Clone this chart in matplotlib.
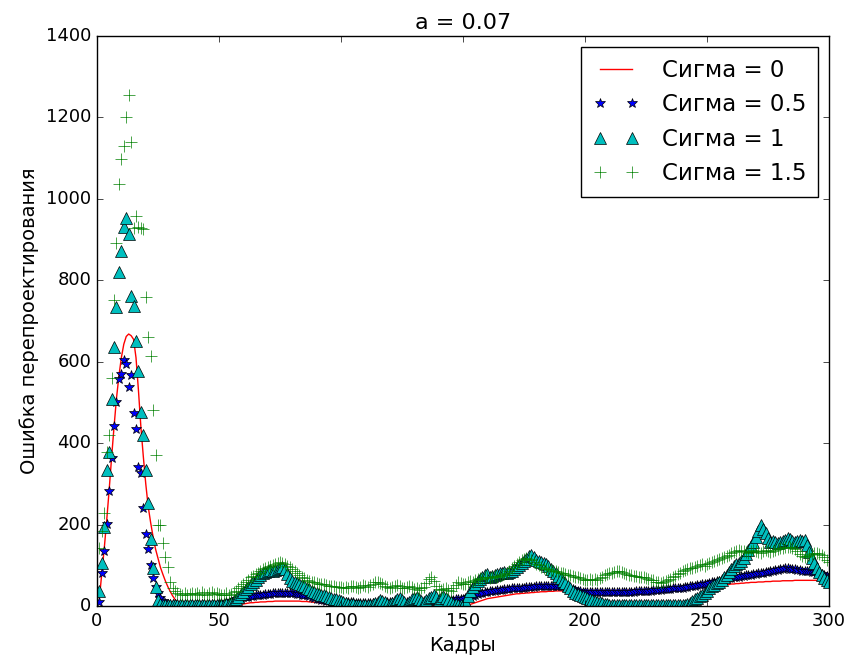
import numpy as np
import matplotlib
matplotlib.use('Agg')
import matplotlib.pyplot as plt

# кадры 1..300
kadry = np.arange(1, 301)

# Сигма = 0 (линия)
sigma_0 = [
    20, 80, 142, 211, 285, 365, 440, 510, 565, 610,
    643, 662, 668, 664, 655, 610, 530, 440, 367, 300,
    244, 205, 170, 140, 118, 95, 78, 62, 48, 36,
    25, 16, 9, 5, 2, 1, 0, 0, 0, 0,
    0, 0, 0, 0, 0, 0, 0, 0, 0, 0,
    0, 0, 0, 0, 1, 1, 2, 3, 4, 5,
    6, 7, 8, 8, 9, 9, 10, 10, 10, 11,
    11, 11, 12, 12, 12, 12, 12, 12, 12, 12,
    12, 12, 12, 11, 11, 11, 10, 10, 9, 9,
    8, 7, 6, 5, 4, 3, 2, 2, 1, 1,
    0, 0, 0, 0, 0, 0, 0, 0, 0, 0,
    0, 0, 0, 0, 0, 0, 0, 0, 0, 0,
    0, 0, 0, 0, 0, 0, 0, 0, 0, 0,
    0, 0, 0, 0, 0, 0, 0, 0, 0, 0,
    0, 0, 0, 0, 0, 0, 0, 0, 0, 0,
    1, 2, 4, 6, 8, 10, 12, 14, 16, 18,
    19, 20, 21, 22, 23, 24, 25, 26, 27, 28,
    29, 30, 30, 31, 31, 32, 32, 33, 33, 34,
    34, 35, 35, 35, 36, 36, 36, 37, 37, 37,
    37, 38, 38, 38, 38, 38, 38, 38, 38, 38,
    38, 38, 38, 38, 38, 38, 38, 38, 38, 38,
    38, 38, 38, 38, 38, 38, 38, 39, 39, 39,
    39, 39, 39, 39, 40, 40, 40, 40, 40, 41,
    41, 41, 41, 41, 42, 42, 42, 42, 43, 43,
    43, 44, 44, 45, 45, 46, 46, 47, 47, 48,
    48, 49, 50, 50, 51, 52, 52, 53, 53, 54,
    54, 55, 55, 56, 56, 57, 57, 58, 58, 58,
    59, 59, 59, 60, 60, 60, 61, 61, 61, 61,
    62, 62, 62, 62, 62, 63, 63, 63, 63, 63,
    63, 63, 63, 63, 63, 63, 63, 62, 62, 62,
]

# Сигма = 0.5 (звёздочки)
sigma_05 = [
    10, 82, 136, 201, 283, 364, 443, 501, 557, 570,
    604, 594, 538, 568, 473, 434, 342, 327, 241, 177,
    140, 101, 68, 47, 31, 19, 13, 8, 6, 5,
    5, 5, 4, 4, 4, 5, 4, 4, 5, 5,
    5, 5, 6, 5, 6, 6, 5, 6, 6, 7,
    7, 8, 9, 10, 12, 14, 16, 18, 20, 21,
    22, 23, 24, 25, 26, 27, 28, 28, 29, 30,
    30, 31, 31, 32, 32, 33, 33, 33, 32, 32,
    31, 30, 29, 28, 27, 26, 24, 22, 20, 18,
    16, 15, 14, 13, 12, 11, 11, 10, 10, 10,
    10, 9, 9, 9, 9, 8, 8, 8, 8, 8,
    8, 8, 8, 8, 8, 8, 8, 9, 9, 9,
    9, 9, 9, 9, 9, 10, 10, 10, 10, 10,
    10, 11, 11, 11, 11, 12, 12, 12, 13, 13,
    13, 14, 14, 14, 15, 15, 16, 16, 17, 18,
    19, 21, 23, 25, 27, 29, 31, 33, 34, 35,
    36, 37, 38, 39, 40, 40, 41, 42, 42, 43,
    43, 44, 44, 45, 45, 46, 46, 47, 47, 48,
    48, 48, 49, 49, 49, 50, 50, 50, 50, 49,
    48, 47, 45, 43, 41, 39, 37, 36, 35, 35,
    34, 34, 34, 34, 34, 34, 34, 34, 34, 34,
    34, 34, 34, 34, 34, 35, 35, 35, 35, 35,
    36, 36, 36, 37, 37, 38, 38, 39, 39, 40,
    40, 41, 41, 42, 42, 43, 43, 44, 44, 45,
    46, 47, 48, 49, 50, 51, 52, 53, 54, 55,
    57, 58, 60, 61, 62, 64, 65, 66, 68, 69,
    70, 71, 72, 73, 74, 75, 76, 77, 78, 79,
    80, 81, 82, 83, 84, 85, 86, 88, 89, 91,
    92, 93, 93, 92, 91, 90, 89, 88, 87, 87,
    86, 85, 84, 83, 82, 80, 78, 76, 74, 71,
]

# Сигма = 1 (треугольники)
sigma_1 = [
    38, 105, 195, 334, 379, 508, 637, 735, 820, 872,
    932, 953, 913, 762, 738, 652, 576, 477, 420, 334,
    252, 165, 93, 47, 15, 5, 3, 3, 2, 2,
    2, 2, 3, 3, 3, 3, 3, 3, 3, 3,
    3, 3, 3, 3, 3, 3, 3, 3, 3, 3,
    3, 3, 4, 5, 8, 12, 17, 23, 29, 35,
    41, 47, 53, 59, 65, 70, 75, 80, 84, 86,
    88, 87, 89, 91, 93, 95, 90, 78, 68, 62,
    58, 56, 55, 52, 48, 45, 41, 38, 35, 32,
    30, 28, 26, 24, 22, 20, 18, 16, 14, 12,
    10, 8, 6, 5, 4, 3, 3, 2, 2, 2,
    2, 3, 5, 8, 11, 14, 12, 9, 6, 4,
    7, 12, 16, 19, 15, 10, 6, 11, 16, 20,
    22, 18, 13, 9, 14, 19, 23, 26, 21, 15,
    19, 24, 20, 14, 9, 6, 4, 3, 2, 3,
    12, 24, 36, 46, 54, 61, 66, 71, 75, 78,
    72, 74, 76, 78, 80, 82, 84, 81, 83, 86,
    90, 95, 100, 105, 110, 116, 122, 125, 120, 114,
    110, 107, 105, 102, 97, 92, 86, 80, 74, 68,
    62, 56, 50, 44, 38, 33, 30, 27, 24, 21,
    19, 17, 15, 13, 11, 9, 7, 5, 4, 3,
    2, 2, 2, 2, 2, 2, 2, 2, 2, 2,
    2, 2, 2, 2, 2, 2, 2, 2, 2, 2,
    2, 2, 2, 2, 2, 2, 2, 2, 2, 2,
    3, 5, 8, 12, 16, 20, 24, 28, 33, 38,
    43, 48, 52, 56, 60, 65, 71, 77, 84, 91,
    97, 102, 106, 110, 118, 128, 138, 148, 158, 170,
    185, 199, 190, 180, 168, 157, 160, 158, 155, 157,
    160, 163, 167, 165, 160, 157, 160, 162, 160, 162,
    150, 133, 118, 105, 94, 84, 76, 69, 63, 59,
]

# Сигма = 1.5 (плюсы)
sigma_15 = [
    142, 185, 228, 378, 420, 559, 752, 891, 1037, 1099,
    1130, 1200, 1254, 1140, 928, 959, 930, 928, 925, 758,
    660, 613, 481, 371, 200, 199, 154, 120, 95, 60,
    44, 38, 33, 30, 28, 32, 27, 30, 33, 29,
    31, 28, 34, 30, 27, 32, 35, 29, 33, 30,
    28, 26, 31, 27, 30, 34, 38, 43, 48, 54,
    60, 65, 70, 74, 78, 82, 86, 90, 93, 96,
    99, 101, 104, 106, 108, 105, 102, 99, 95, 91,
    86, 80, 75, 71, 68, 65, 62, 60, 58, 57,
    55, 54, 53, 51, 50, 49, 48, 47, 47, 46,
    45, 47, 44, 48, 50, 46, 43, 47, 51, 49,
    46, 52, 55, 58, 60, 57, 53, 49, 47, 44,
    46, 49, 52, 48, 45, 43, 47, 50, 46, 42,
    44, 40, 43, 47, 56, 66, 71, 62, 50, 41,
    39, 42, 45, 40, 38, 44, 52, 58, 56, 53,
    55, 58, 62, 60, 64, 67, 69, 66, 70, 72,
    68, 71, 74, 70, 73, 76, 79, 82, 87, 93,
    98, 103, 108, 112, 116, 118, 116, 112, 108, 104,
    100, 96, 94, 92, 90, 88, 87, 86, 84, 82,
    80, 78, 76, 75, 74, 72, 70, 68, 66, 65,
    64, 66, 63, 67, 65, 69, 72, 75, 78, 80,
    82, 84, 86, 85, 83, 81, 79, 77, 76, 74,
    73, 71, 70, 72, 69, 67, 65, 63, 60, 58,
    57, 59, 62, 64, 66, 70, 74, 78, 82, 86,
    89, 92, 94, 93, 96, 98, 100, 102, 99, 103,
    105, 108, 111, 114, 116, 118, 120, 123, 126, 129,
    132, 135, 138, 136, 134, 133, 131, 134, 137, 135,
    133, 131, 134, 137, 135, 133, 136, 138, 140, 142,
    143, 145, 144, 145, 143, 140, 135, 128, 122, 120,
    123, 126, 128, 130, 129, 127, 125, 120, 114, 108,
]

plt.style.use('classic')
plt.rcParams['font.family'] = ['DejaVu Sans']

fig = plt.figure(figsize=(8.52, 6.63), dpi=100, facecolor='white')
ax = fig.add_axes([0.1138, 0.086, 0.8592, 0.8597])

ax.plot(kadry, sigma_0, 'r-', label='Сигма = 0')
ax.plot(kadry, sigma_05, 'b*', markersize=7, label='Сигма = 0.5')
ax.plot(kadry, sigma_1, 'c^', markersize=8, label='Сигма = 1')
ax.plot(kadry, sigma_15, 'g+', markersize=8, label='Сигма = 1.5')

ax.set_xlim(0, 300)
ax.set_ylim(0, 1400)
ax.tick_params(labelsize=13)
ax.set_title('a = 0.07', fontsize=16)
ax.set_xlabel('Кадры', fontsize=14)
ax.set_ylabel('Ошибка перепроектирования', fontsize=14)
ax.legend(loc='upper right', fontsize=16.5, numpoints=2, handlelength=2.0,
          handletextpad=1.0, borderpad=0.5, labelspacing=0.5)

fig.savefig('out.png', dpi=100, facecolor='white')
